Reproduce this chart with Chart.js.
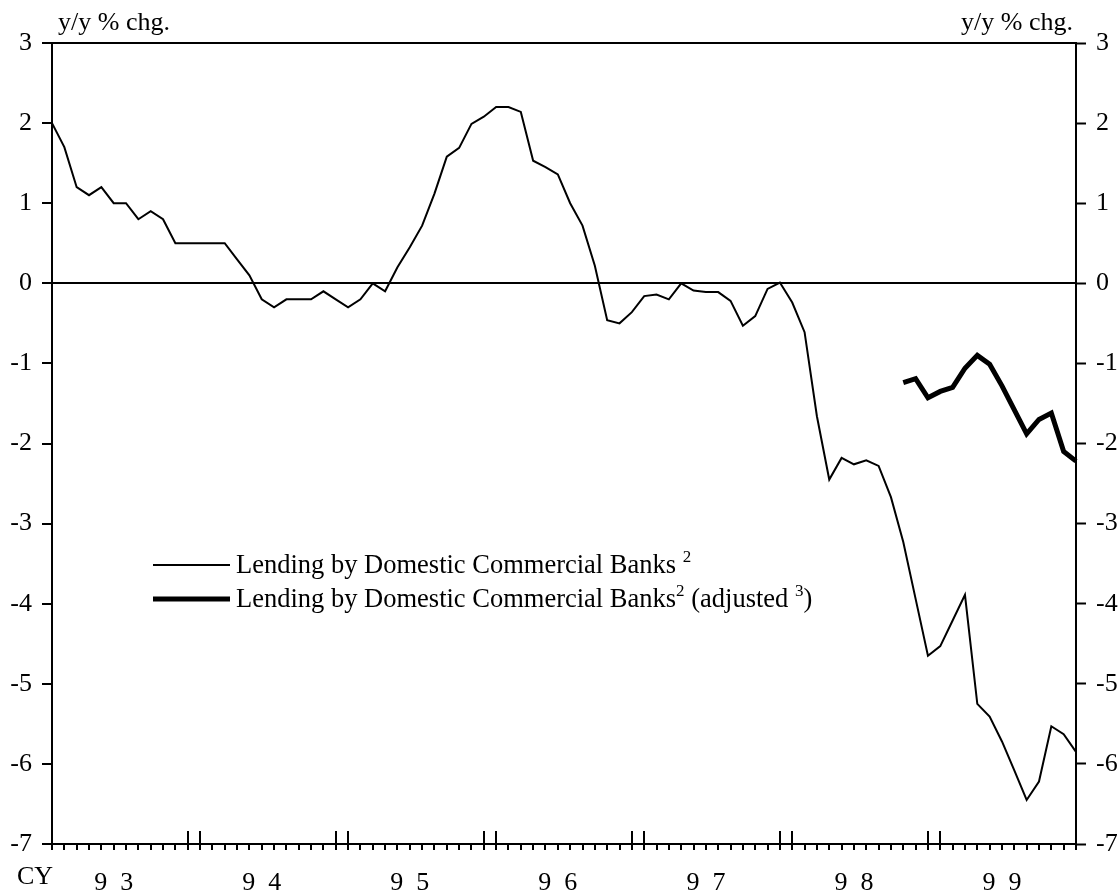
<!DOCTYPE html>
<html>
<head>
<meta charset="utf-8">
<script src="https://cdn.jsdelivr.net/npm/chart.js@4.4.1/dist/chart.umd.min.js"></script>
<style>
  html, body { margin: 0; padding: 0; background: #fff; }
  #wrap { width: 1120px; height: 892px; }
</style>
</head>
<body>
<div id="wrap"><canvas id="lendingChart" width="1120" height="892"></canvas></div>
<script>
// Calendar years shown along the bottom axis and their printed labels
const years = ["1993", "1994", "1995", "1996", "1997", "1998", "1999"];
const yearLabels = ["9\u20023", "9\u20024", "9\u20025", "9\u20026", "9\u20027", "9\u20028", "9\u20029"];

// y/y % change, monthly, Jan 93 .. Dec 99
const lending = [
  2.0, 1.7, 1.2, 1.1, 1.2, 1.0, 1.0, 0.8, 0.9, 0.8, 0.5, 0.5,
  0.5, 0.5, 0.5, 0.3, 0.1, -0.2, -0.3, -0.2, -0.2, -0.2, -0.1, -0.2,
  -0.3, -0.2, 0.0, -0.1, 0.2, 0.45, 0.72, 1.12, 1.58, 1.69, 1.99, 2.08,
  2.2, 2.2, 2.14, 1.53, 1.45, 1.36, 1.0, 0.72, 0.22, -0.46, -0.5, -0.36,
  -0.16, -0.14, -0.2, 0.0, -0.09, -0.11, -0.11, -0.22, -0.53, -0.41, -0.07, 0.01,
  -0.24, -0.61, -1.66, -2.45, -2.18, -2.26, -2.21, -2.28, -2.67, -3.23, -3.94, -4.65,
  -4.53, -4.21, -3.89, -5.25, -5.41, -5.72, -6.08, -6.45, -6.22, -5.53, -5.63, -5.85
];

// adjusted series only starts in Oct 98
const lendingAdjusted = [
  null, null, null, null, null, null, null, null, null, null, null, null,
  null, null, null, null, null, null, null, null, null, null, null, null,
  null, null, null, null, null, null, null, null, null, null, null, null,
  null, null, null, null, null, null, null, null, null, null, null, null,
  null, null, null, null, null, null, null, null, null, null, null, null,
  null, null, null, null, null, null, null, null, null, -1.24, -1.19, -1.43,
  -1.35, -1.30, -1.06, -0.90, -1.01, -1.28, -1.58, -1.88, -1.70, -1.62, -2.10, -2.22
];

// legend text, with footnote markers raised
const legendRows = [
  [{ t: "Lending by Domestic Commercial Banks " }, { t: "2", sup: true }],
  [{ t: "Lending by Domestic Commercial Banks" }, { t: "2", sup: true },
   { t: " (adjusted " }, { t: "3", sup: true }, { t: ")" }]
];

const unitText = "y/y % chg.";

const months = [];
years.forEach((y) => {
  for (let m = 1; m <= 12; m++) months.push(y + "-" + String(m).padStart(2, "0"));
});

const SERIF = "'Liberation Serif', 'Times New Roman', serif";
Chart.defaults.font.family = SERIF;
Chart.defaults.font.size = 26;
Chart.defaults.color = "#000";

// extra drawing: top frame line, year-boundary ticks, unit captions, legend
const frameExtras = {
  id: "frameExtras",
  afterDraw(chart) {
    const { ctx, chartArea: a, scales } = chart;
    const xs = scales.x;
    ctx.save();
    ctx.strokeStyle = "#000";
    ctx.lineWidth = 2;

    // top edge of the box
    ctx.beginPath();
    ctx.moveTo(a.left, a.top);
    ctx.lineTo(a.right, a.top);
    ctx.stroke();

    // Dec/Jan ticks are taller and reach into the plot
    months.forEach((m, i) => {
      const mm = i % 12;
      if (mm !== 11 && mm !== 0) return;
      const px = Math.round(xs.getPixelForValue(i));
      ctx.beginPath();
      ctx.moveTo(px, a.bottom - 13);
      ctx.lineTo(px, a.bottom + 6);
      ctx.stroke();
    });

    ctx.fillStyle = "#000";
    ctx.font = "26px " + SERIF;
    ctx.textBaseline = "alphabetic";
    ctx.textAlign = "left";
    ctx.fillText(unitText, a.left + 6, 30);
    ctx.textAlign = "right";
    ctx.fillText(unitText, a.right - 3, 30);
    ctx.textAlign = "left";
    ctx.fillText("CY", 17, 884);

    // legend
    const lx = 153, lineLen = 77, rowY = [565, 599];
    chart.data.datasets.forEach((ds, i) => {
      const y = rowY[i];
      ctx.lineWidth = ds.borderWidth;
      ctx.beginPath();
      ctx.moveTo(lx, y);
      ctx.lineTo(lx + lineLen, y);
      ctx.stroke();
      let tx = lx + lineLen + 6;
      legendRows[i].forEach((part) => {
        ctx.font = (part.sup ? "17px " : "26.5px ") + SERIF;
        ctx.fillText(part.t, tx, part.sup ? y - 3 : y + 8);
        tx += ctx.measureText(part.t).width;
      });
    });
    ctx.restore();
  }
};

new Chart(document.getElementById("lendingChart"), {
  type: "line",
  data: {
    labels: months,
    datasets: [
      {
        label: "Lending by Domestic Commercial Banks",
        data: lending,
        borderColor: "#000",
        borderWidth: 2,
        pointRadius: 0,
        tension: 0
      },
      {
        label: "Lending by Domestic Commercial Banks (adjusted)",
        data: lendingAdjusted,
        borderColor: "#000",
        borderWidth: 5,
        pointRadius: 0,
        tension: 0,
        spanGaps: false
      }
    ]
  },
  options: {
    responsive: false,
    animation: false,
    events: [],
    layout: { padding: { top: 43, left: 0, right: 0, bottom: 0 } },
    plugins: {
      legend: { display: false },
      tooltip: { enabled: false }
    },
    scales: {
      x: {
        type: "category",
        offset: false,
        afterFit: (s) => { s.height = 48; },
        border: { display: true, color: "#000", width: 2 },
        grid: {
          drawOnChartArea: false,
          tickLength: 6,
          tickColor: "#000",
          tickWidth: 2,
          lineWidth: 2
        },
        ticks: {
          autoSkip: false,
          maxRotation: 0,
          padding: 18,
          callback: (v, i) => (i % 12 === 5 ? yearLabels[Math.floor(i / 12)] : "")
        }
      },
      y: {
        position: "left",
        min: -7,
        max: 3,
        afterFit: (s) => { s.width = 52; },
        border: { display: true, color: "#000", width: 2 },
        grid: {
          color: (c) => (c.tick && c.tick.value === 0 ? "#000" : "rgba(0,0,0,0)"),
          lineWidth: 2,
          tickLength: 10,
          tickColor: "#000",
          tickWidth: 2
        },
        ticks: { stepSize: 1, padding: 10 }
      },
      y2: {
        position: "right",
        min: -7,
        max: 3,
        afterFit: (s) => { s.width = 44; },
        border: { display: true, color: "#000", width: 2 },
        grid: {
          drawOnChartArea: false,
          tickLength: 10,
          tickColor: "#000",
          tickWidth: 2
        },
        ticks: { stepSize: 1, padding: 10 }
      }
    }
  },
  plugins: [frameExtras]
});
</script>
</body>
</html>
